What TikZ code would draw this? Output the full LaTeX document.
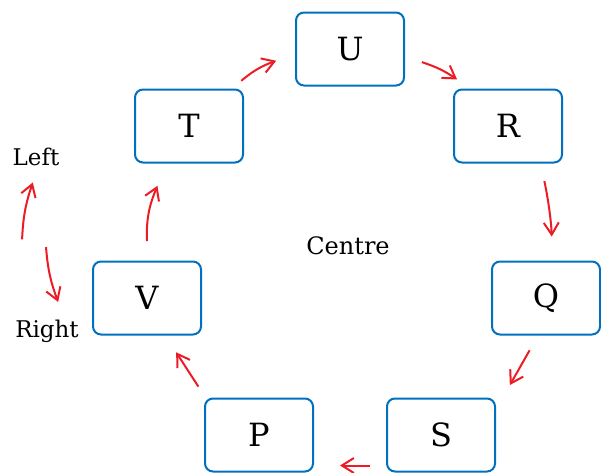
\documentclass[tikz,border=0pt]{standalone}
\usepackage{fontspec}
\setmainfont{DejaVu Serif}
\usetikzlibrary{arrows.meta}
\usetikzlibrary{calc}
\definecolor{boxblue}{rgb}{0.0, 0.44, 0.75}
\definecolor{arrowred}{rgb}{0.93, 0.11, 0.14}

\begin{document}
\begin{tikzpicture}[x=1pt, y=-1pt,
	box/.style={draw=boxblue, line width=2pt, rounded corners=8pt, minimum width=108pt, minimum height=73pt, font=\fontsize{32}{36}\selectfont},
	flow/.style={arrowred, line width=2pt, -{Straight Barb[length=12pt, width=15pt]}},
	side/.style={inner sep=0pt, anchor=base, font=\fontsize{23}{26}\selectfont}]
	\useasboundingbox (0,0) rectangle (601,472);

	\node[box] (U) at (350,49) {U};
	\node[box] (R) at (508,126) {R};
	\node[box] (Q) at (546,298) {Q};
	\node[box] (S) at (441,435) {S};
	\node[box] (P) at (259,435) {P};
	\node[box] (V) at (147,298) {V};
	\node[box] (T) at (189,126) {T};

	\node[side, font=\fontsize{24}{28}\selectfont] (centre) at (348,254) {Centre};
	\node[side] (left) at (36,165) {Left};
	\node[side] (right) at (47,337) {Right};

	% ring, clockwise
	\draw[flow] ($(T.44)!0.2!(U.181)$) to[bend left=10] ($(T.44)!0.72!(U.181)$);
	\draw[flow] ($(U.-5)!0.24!(R.131)$) to[bend left=8] ($(U.-5)!0.74!(R.131)$);
	\draw[flow, shorten <=18pt, shorten >=24pt] (R.-49) to[bend left=5] (Q.80);
	\draw[flow, shorten <=17pt, shorten >=28pt] (Q.258) to (S.25);
	\draw[flow, shorten <=16pt, shorten >=26pt] (S.209) to (P.-29);
	\draw[flow, shorten <=13pt, shorten >=20pt] (P.145) to (V.-64);
	\draw[flow] ($(V.96)!0.2!(T.234)$) to[bend left=12] ($(V.96)!0.77!(T.234)$);

	% left / right
	\draw[flow] ($([xshift=-40pt]right.north)!0.52!(left.south)$) to[bend left=8] ($([xshift=-40pt]right.north)!0.89!(left.south)$);
	\draw[flow] ($([xshift=-8pt]left.south)!0.53!([xshift=15pt]right.north)$) to[bend right=8] ($([xshift=-8pt]left.south)!0.887!([xshift=15pt]right.north)$);
\end{tikzpicture}
\end{document}
